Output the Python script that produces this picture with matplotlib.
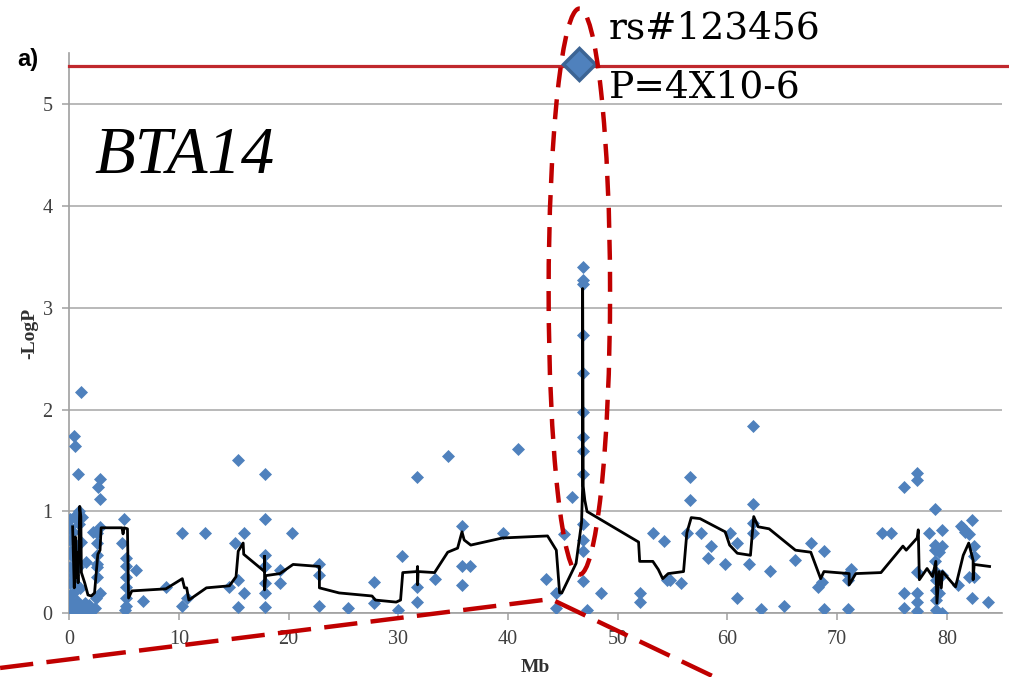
#Manhattan-style plot for BTA14, single SNP highlighted
import matplotlib.pyplot as plt
from matplotlib.patches import Ellipse

# scatter of single SNP -logP values (position in Mb)
snp_mb = [0.05, 0.05, 0.08, 0.1, 0.1, 0.05, 0.1, 0.05, 0.2, 0.25, 0.3, 0.3, 0.35, 0.3, 0.4,
          0.45, 0.5, 0.5, 0.55, 0.6, 0.7, 0.7, 0.75, 0.8, 0.85, 0.9, 1.0, 1.0, 1.06, 1.1,
          1.2, 1.3, 1.4, 1.5, 1.6, 1.8, 1.9, 2.2, 2.3, 2.5, 2.5, 2.8, 2.5, 2.5, 2.5, 2.5,
          2.8, 2.4, 2.6, 2.8, 2.8,
          5.0, 4.8, 5.2, 5.2, 5.2, 5.2, 5.2, 5.2, 5.1,
          6.1, 6.7, 8.8, 10.3, 10.3, 10.7, 12.4, 14.6, 15.1, 15.4, 15.9, 15.4, 15.9, 15.4,
          17.8, 17.8, 17.8, 17.8, 17.8, 17.8, 17.8, 19.2, 19.2, 20.3, 22.8, 22.8, 22.8,
          25.4, 27.8, 27.8, 30.0, 30.3, 31.7, 31.7, 31.7, 33.3, 34.5, 35.8, 35.8, 36.5, 35.8,
          39.5, 40.9, 43.5, 44.4, 44.4, 45.1, 45.8,
          46.8, 46.8, 46.8, 46.8, 46.8, 46.8, 46.8, 46.8, 46.8, 46.8, 46.8, 46.8, 46.8,
          47.2, 48.5, 52.0, 52.0, 53.2, 54.2, 54.5,
          54.8, 55.8, 56.3, 56.6, 56.6, 57.6, 58.5, 58.2, 59.8, 60.2, 60.9, 60.9, 62.0,
          62.3, 62.3, 62.3, 62.3, 63.1, 63.9, 65.2, 66.2, 67.6, 68.8, 68.3, 68.6, 68.8,
          71.0, 71.3, 71.0, 71.0, 74.1, 74.9, 76.1, 77.3, 77.3, 76.1, 76.1, 77.3, 77.3,
          77.3, 77.3, 78.4, 78.9, 79.6, 78.9, 78.9, 79.3, 79.6, 78.9, 79.0, 79.0, 79.0,
          79.0, 79.0, 79.6, 79.3, 79.6, 81.3, 81.5, 81.7, 82.0, 82.3, 82.5, 82.5, 82.5,
          82.0, 82.3, 83.8, 81.0]
snp_logp = [0.05, 0.18, 0.3, 0.45, 0.6, 0.72, 0.85, 0.93, 0.02, 0.1, 0.2, 0.38, 0.55, 0.8, 0.95,
            1.74, 1.64, 0.05, 0.3, 0.65, 0.02, 0.12, 0.45, 1.37, 0.88, 1.0, 0.05, 0.25, 2.17, 0.7,
            0.95, 0.02, 0.1, 0.5, 0.03, 0.08, 0.02, 0.8, 0.05, 0.45, 0.79, 0.85, 0.69, 0.57, 0.48, 0.36,
            0.2, 0.15, 1.24, 1.32, 1.12,
            0.93, 0.69, 0.54, 0.46, 0.36, 0.26, 0.15, 0.07, 0.03,
            0.43, 0.12, 0.26, 0.79, 0.07, 0.15, 0.79, 0.26, 0.69, 1.51, 0.79, 0.33, 0.20, 0.06,
            1.37, 0.93, 0.57, 0.46, 0.30, 0.20, 0.06, 0.43, 0.30, 0.79, 0.48, 0.38, 0.07,
            0.05, 0.31, 0.10, 0.03, 0.56, 1.34, 0.26, 0.11, 0.34, 1.55, 0.86, 0.46, 0.46, 0.28,
            0.79, 1.61, 0.34, 0.20, 0.05, 0.78, 1.14,
            3.40, 3.27, 3.23, 2.73, 2.36, 1.98, 1.73, 1.59, 1.37, 0.88, 0.72, 0.61, 0.32,
            0.03, 0.20, 0.20, 0.11, 0.79, 0.71, 0.33,
            0.33, 0.30, 0.79, 1.34, 1.11, 0.79, 0.66, 0.54, 0.48, 0.79, 0.69, 0.15, 0.48,
            1.84, 1.07, 0.89, 0.79, 0.04, 0.42, 0.07, 0.52, 0.69, 0.61, 0.26, 0.31, 0.04,
            0.04, 0.44, 0.39, 0.33, 0.79, 0.79, 1.24, 1.38, 1.31, 0.20, 0.05, 0.41, 0.20,
            0.11, 0.02, 0.79, 1.02, 0.82, 0.67, 0.62, 0.60, 0.66, 0.51, 0.41, 0.33, 0.23,
            0.13, 0.03, 0.0, 0.20, 0.38, 0.86, 0.84, 0.80, 0.78, 0.92, 0.66, 0.56, 0.36,
            0.36, 0.15, 0.11, 0.28]

# sliding average line
avg_mb = [0.3, 0.45, 0.55, 0.6, 0.7, 0.8, 0.95, 1.05, 1.1, 1.4, 1.7, 2.0, 2.3, 2.6, 2.8, 2.9,
          4.8, 4.9, 5.0, 5.3, 5.4, 5.7, 8.8, 10.3, 10.5, 10.7, 10.9, 12.5, 14.6, 15.2, 15.4,
          15.85, 15.9, 17.8, 17.8, 17.8, 17.9, 19.2, 20.4, 22.8, 22.8, 24.6, 27.6, 27.9, 29.8,
          30.2, 30.4, 31.7, 31.75, 31.75, 31.8, 33.3, 34.5, 35.4, 35.8, 36.0, 36.6, 39.5, 43.6,
          44.4, 44.7, 44.9, 46.2, 46.7, 46.8, 46.8, 46.85, 47.0, 47.2, 51.9, 52.0, 53.2, 53.7,
          54.1, 54.6, 56.0, 56.3, 56.7, 57.5, 59.8, 60.2, 60.9, 62.1, 62.4, 62.8, 63.8, 66.2,
          67.6, 68.5, 68.8, 71.1, 71.1, 71.7, 74.0, 76.0, 76.3, 77.3, 77.4, 77.5, 78.2, 78.7,
          79.0, 79.1, 79.3, 79.5, 79.6, 80.8, 81.5, 82.0, 82.4, 82.4, 82.5, 83.9]
avg_logp = [0.85, 0.25, 0.75, 0.35, 0.6, 0.3, 1.05, 0.95, 0.4, 0.3, 0.18, 0.17, 0.2, 0.58, 0.62, 0.84,
            0.84, 0.78, 0.84, 0.83, 0.15, 0.22, 0.24, 0.34, 0.25, 0.25, 0.13, 0.25, 0.27, 0.36, 0.61,
            0.69, 0.58, 0.41, 0.56, 0.23, 0.37, 0.39, 0.48, 0.46, 0.25, 0.2, 0.17, 0.13, 0.11,
            0.13, 0.40, 0.41, 0.46, 0.28, 0.41, 0.40, 0.6, 0.64, 0.80, 0.72, 0.67, 0.74, 0.76,
            0.62, 0.2, 0.2, 0.49, 0.89, 1.25, 3.19, 1.25, 1.11, 1.0, 0.7, 0.51, 0.51, 0.43,
            0.34, 0.39, 0.41, 0.79, 0.94, 0.93, 0.80, 0.67, 0.59, 0.57, 0.95, 0.85, 0.83, 0.62,
            0.6, 0.34, 0.41, 0.39, 0.28, 0.39, 0.40, 0.66, 0.62, 0.74, 0.82, 0.33, 0.44, 0.36,
            0.51, 0.10, 0.41, 0.25, 0.41, 0.26, 0.57, 0.69, 0.52, 0.33, 0.48, 0.46]

top_mb = 46.5
top_logp = 5.40
threshold = 5.38

blue = '#4F81BD'
red = '#C00000'

fig = plt.figure(figsize=(10.09, 6.77), dpi=100)
ax = fig.add_axes([0.0687, 0.0941, 0.924, 0.827])

ax.scatter(snp_mb, snp_logp, marker='D', s=44, color=blue, linewidths=0, zorder=3)
ax.plot(avg_mb, avg_logp, color='black', lw=2.0, zorder=4)

# significance threshold, runs a bit past the plot area
ax.plot([0, 86.4], [threshold, threshold], color='#C0282D', lw=2.3, clip_on=False, zorder=5)
ax.plot([top_mb], [top_logp], marker='D', ms=16, color=blue, mec='#3C6494', mew=2.5,
        clip_on=False, zorder=6)

# dashed ellipse round the peak and zoom lines
ell = Ellipse((46.5, 3.16), 5.6, 5.56, fill=False, edgecolor=red, lw=3.2,
              linestyle=(0, (4.5, 2.7)), clip_on=False, zorder=7)
ax.add_patch(ell)
ax.plot([-6.31, 43.9, 58.8], [-0.537, 0.14, -0.625], color=red, lw=3.2,
        linestyle=(0, (7.5, 3.0)), clip_on=False, zorder=7)

ax.set_xlim(0, 85)
ax.set_ylim(0, 5.5)
ax.set_xticks(range(0, 90, 10))
ax.set_yticks(range(0, 6))

for s in ['top', 'right']:
    ax.spines[s].set_visible(False)
for s in ['left', 'bottom']:
    ax.spines[s].set_color('#A0A0A0')
    ax.spines[s].set_linewidth(1.2)
ax.yaxis.grid(True, color='#A6A6A6', lw=1.1)
ax.set_axisbelow(True)
ax.tick_params(direction='out', length=5, color='#A0A0A0', width=1.1,
               labelsize=14.5, labelcolor='#404040', pad=7)
for lab in ax.get_xticklabels() + ax.get_yticklabels():
    lab.set_fontfamily('Liberation Serif')

ax.set_xlabel('Mb', fontsize=14, fontweight='bold', family='Liberation Serif',
              color='#303030', labelpad=7)
ax.set_ylabel('-LogP', fontsize=14, fontweight='bold', family='Liberation Serif',
              color='#303030', labelpad=3)

ax.text(2.3, 4.33, 'BTA14', fontsize=48, style='italic', family='Liberation Serif',
        va='baseline', ha='left')
ax.text(49.2, 5.65, 'rs#123456', fontsize=27, family='DejaVu Serif',
        va='baseline', ha='left')
ax.text(49.2, 5.07, 'P=4X10-6', fontsize=27, family='DejaVu Serif',
        va='baseline', ha='left')
fig.text(0.017, 0.903, 'a)', fontsize=17, fontweight='bold', family='Liberation Sans')

fig.savefig('out.png', dpi=100)
